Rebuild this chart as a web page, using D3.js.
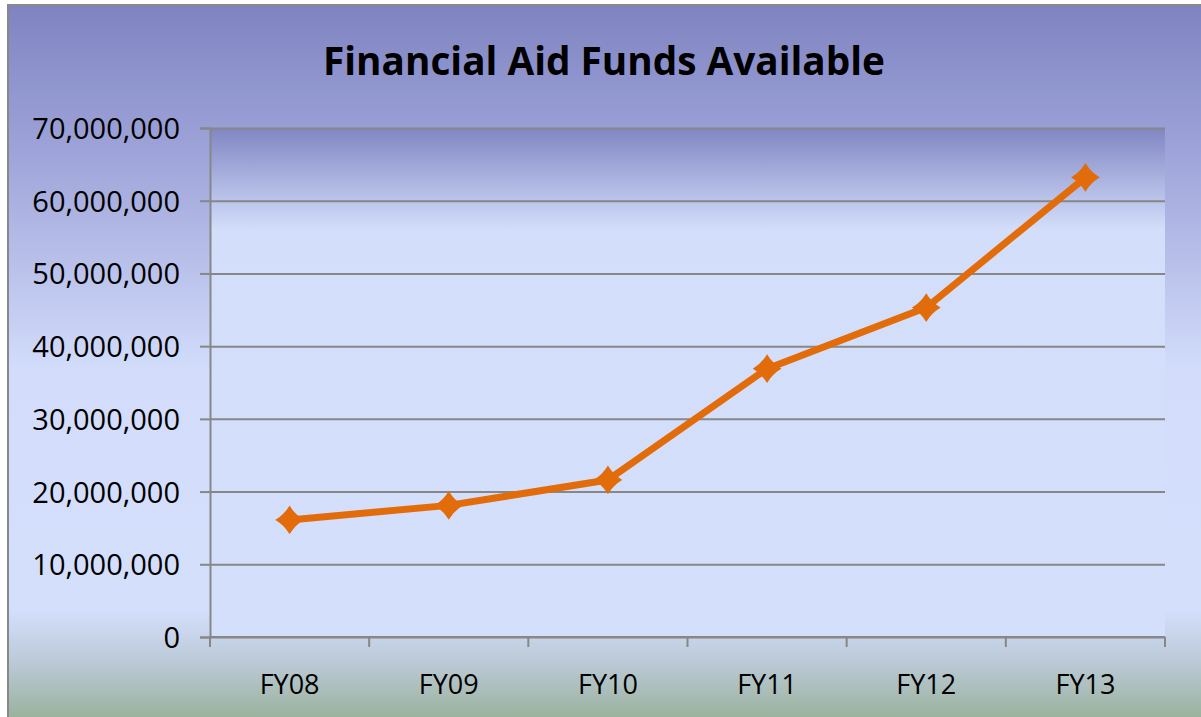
<!DOCTYPE html>
<html>
<head>
<meta charset="utf-8">
<script src="https://cdn.jsdelivr.net/npm/d3@7"></script>
<style>
  html, body { margin: 0; padding: 0; background: #fff; }
  svg { display: block; }
</style>
</head>
<body>
<div id="chart"></div>
<script>
// chart data
const years = ["FY08", "FY09", "FY10", "FY11", "FY12", "FY13"];
const funds = [16100000, 18100000, 21600000, 36900000, 45300000, 63200000];
const yTicks = [0, 10000000, 20000000, 30000000, 40000000, 50000000, 60000000, 70000000];
const title = "Financial Aid Funds Available";

const width = 1201, height = 717;
const margin = { top: 128, right: 36, bottom: 80, left: 210 };
const orange = "#e36c0a";
const grid = "#878787";
const font = "'Open Sans', 'Liberation Sans', sans-serif";

const svg = d3.select("#chart").append("svg")
  .attr("width", width)
  .attr("height", height);

const defs = svg.append("defs");

// outer background gradient (blue -> pale -> grey green)
defs.append("linearGradient")
  .attr("id", "outer-bg")
  .attr("x1", 0).attr("y1", 0).attr("x2", 0).attr("y2", 1)
  .selectAll("stop")
  .data([
    { offset: "0%", color: "#7f84c1" },
    { offset: "20%", color: "#9ea4d9" },
    { offset: "50%", color: "#d3ddfb" },
    { offset: "82%", color: "#d4dffc" },
    { offset: "89%", color: "#bccad8" },
    { offset: "98%", color: "#95ae93" },
    { offset: "100%", color: "#95ae93" },
  ])
  .join("stop")
  .attr("offset", (d) => d.offset)
  .attr("stop-color", (d) => d.color);

// plot area gradient
defs.append("linearGradient")
  .attr("id", "plot-bg")
  .attr("x1", 0).attr("y1", 0).attr("x2", 0).attr("y2", 1)
  .selectAll("stop")
  .data([
    { offset: "0%", color: "#8186c3" },
    { offset: "20%", color: "#d3defb" },
    { offset: "100%", color: "#d4dffc" },
  ])
  .join("stop")
  .attr("offset", (d) => d.offset)
  .attr("stop-color", (d) => d.color);

svg.append("rect")
  .attr("x", 8).attr("y", 5)
  .attr("width", width + 20).attr("height", height + 20)
  .attr("fill", "url(#outer-bg)")
  .attr("stroke", "#888")
  .attr("stroke-width", 2);

// scales
const x = d3.scaleBand()
  .domain(years)
  .range([margin.left, width - margin.right]);

const y = d3.scaleLinear()
  .domain([0, 70000000])
  .range([height - margin.bottom, margin.top]);

svg.append("rect")
  .attr("x", x.range()[0])
  .attr("y", y(70000000))
  .attr("width", x.range()[1] - x.range()[0])
  .attr("height", y(0) - y(70000000))
  .attr("fill", "url(#plot-bg)");

// title
svg.append("text")
  .attr("x", 604)
  .attr("y", 75)
  .attr("text-anchor", "middle")
  .attr("font-family", font)
  .attr("font-weight", "bold")
  .attr("font-size", 39)
  .attr("textLength", 562)
  .attr("lengthAdjust", "spacingAndGlyphs")
  .attr("fill", "#000")
  .text(title);

// y axis with gridlines
const yAxis = svg.append("g")
  .attr("transform", `translate(${margin.left},0)`)
  .call(d3.axisLeft(y)
    .tickValues(yTicks)
    .tickSize(10)
    .tickPadding(20)
    .tickFormat(d3.format(",")));

yAxis.select(".domain").attr("stroke", grid).attr("stroke-width", 2);
yAxis.selectAll(".tick line").attr("stroke", grid).attr("stroke-width", 2);
yAxis.selectAll(".tick text")
  .attr("font-family", font)
  .attr("font-size", 29)
  .attr("fill", "#000")
  .attr("dy", "0.36em");

yAxis.selectAll(".tick").append("line")
  .attr("x1", 0)
  .attr("x2", x.range()[1] - margin.left)
  .attr("stroke", grid)
  .attr("stroke-width", 2);

// x axis, ticks between categories
const xAxis = svg.append("g")
  .attr("transform", `translate(0,${y(0)})`);

xAxis.append("line")
  .attr("x1", x.range()[0]).attr("x2", x.range()[1])
  .attr("stroke", grid).attr("stroke-width", 2);

const boundaries = years.map((d) => x(d)).concat([x.range()[1]]);
xAxis.selectAll("line.tick")
  .data(boundaries)
  .join("line")
  .attr("class", "tick")
  .attr("x1", (d) => d).attr("x2", (d) => d)
  .attr("y1", 0).attr("y2", 10)
  .attr("stroke", grid).attr("stroke-width", 2);

xAxis.selectAll("text")
  .data(years)
  .join("text")
  .attr("x", (d) => x(d) + x.bandwidth() / 2)
  .attr("y", 57)
  .attr("text-anchor", "middle")
  .attr("font-family", font)
  .attr("font-size", 27)
  .attr("fill", "#000")
  .text((d) => d);

// series line
const line = d3.line()
  .x((d, i) => x(years[i]) + x.bandwidth() / 2)
  .y((d) => y(d));

svg.append("path")
  .datum(funds)
  .attr("fill", "none")
  .attr("stroke", orange)
  .attr("stroke-width", 7)
  .attr("stroke-linejoin", "round")
  .attr("d", line);

// diamond markers with slightly pinched sides
const pinchedDiamond = {
  draw(context, size) {
    const r = Math.sqrt(size) / 2;
    const k = r * 0.38;
    context.moveTo(0, -r);
    context.quadraticCurveTo(k, -k, r, 0);
    context.quadraticCurveTo(k, k, 0, r);
    context.quadraticCurveTo(-k, k, -r, 0);
    context.quadraticCurveTo(-k, -k, 0, -r);
    context.closePath();
  },
};

svg.append("g")
  .selectAll("path")
  .data(funds)
  .join("path")
  .attr("transform", (d, i) => `translate(${x(years[i]) + x.bandwidth() / 2},${y(d)})`)
  .attr("d", d3.symbol(pinchedDiamond, 26 * 26))
  .attr("fill", orange)
  .attr("stroke", orange)
  .attr("stroke-width", 1.5);
</script>
</body>
</html>
